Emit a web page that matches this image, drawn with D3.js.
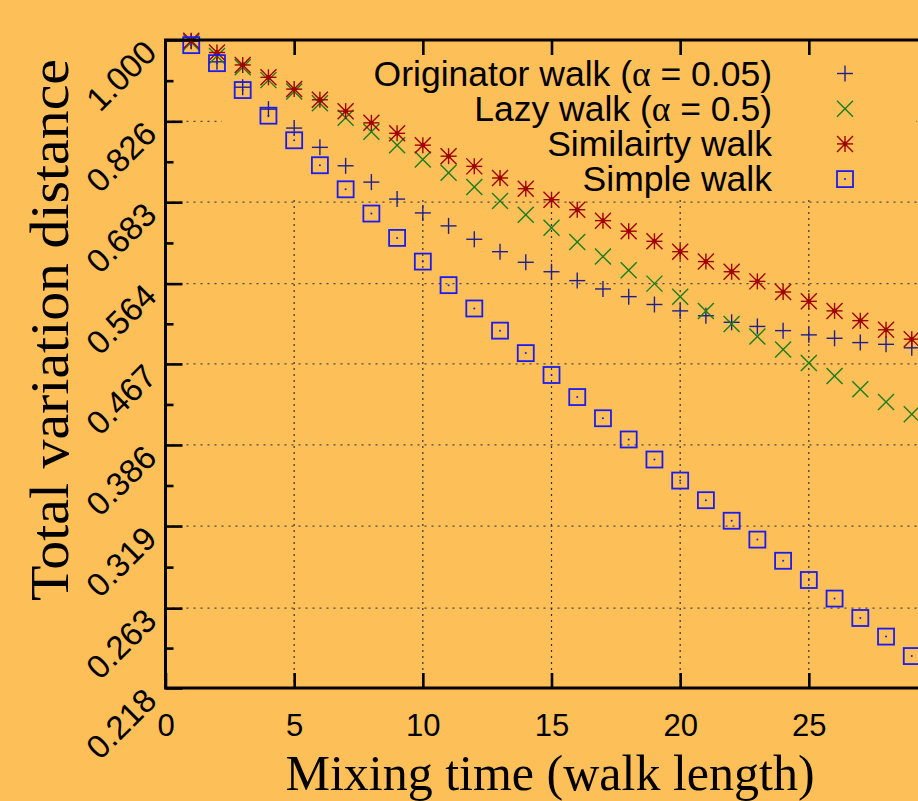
<!DOCTYPE html>
<html>
<head>
<meta charset="utf-8">
<script src="https://cdn.jsdelivr.net/npm/d3@7"></script>
<style>
  html, body { margin: 0; padding: 0; background: #fdbf58; }
  svg { display: block; }
</style>
</head>
<body>
<svg id="chart"></svg>
<script>
// walk length (x values)
var steps = d3.range(1, 30);

// total variation distance per series
var originator = [0.997, 0.950, 0.895, 0.850, 0.813, 0.777, 0.744, 0.716, 0.688, 0.666,
                  0.646, 0.626, 0.608, 0.593, 0.580, 0.568, 0.557, 0.547, 0.537, 0.529,
                  0.523, 0.515, 0.510, 0.505, 0.500, 0.496, 0.491, 0.489, 0.485];
var lazy = [0.995, 0.963, 0.938, 0.910, 0.886, 0.862, 0.833, 0.806, 0.781, 0.755,
            0.732, 0.708, 0.685, 0.663, 0.643, 0.622, 0.601, 0.582, 0.564, 0.547,
            0.529, 0.513, 0.498, 0.483, 0.468, 0.454, 0.440, 0.427, 0.415];
var similarity = [0.998, 0.971, 0.943, 0.916, 0.891, 0.869, 0.846, 0.823, 0.803, 0.781,
                  0.761, 0.743, 0.723, 0.705, 0.687, 0.671, 0.654, 0.638, 0.623, 0.608,
                  0.594, 0.580, 0.567, 0.553, 0.541, 0.529, 0.517, 0.506, 0.495];
var simple = [0.988, 0.947, 0.889, 0.837, 0.790, 0.745, 0.704, 0.665, 0.628, 0.594,
              0.562, 0.532, 0.505, 0.479, 0.455, 0.432, 0.411, 0.391, 0.373, 0.355,
              0.339, 0.323, 0.309, 0.294, 0.281, 0.269, 0.257, 0.246, 0.235];

// tick labels
var xTicks = [0, 5, 10, 15, 20, 25];
var yTicks = [1.000, 0.826, 0.683, 0.564, 0.467, 0.386, 0.319, 0.263, 0.218];

var series = [
  {name: "Originator walk", alpha: "0.05", values: originator, shape: "plus",   color: "#1f1f8f"},
  {name: "Lazy walk",       alpha: "0.5",  values: lazy,       shape: "cross",  color: "#1b7d1b"},
  {name: "Similairty walk", alpha: null,   values: similarity, shape: "star",   color: "#a00000"},
  {name: "Simple walk",     alpha: null,   values: simple,     shape: "square", color: "#1c1cf0"}
];

var W = 918, H = 801;
var bg = "#fdbf58";
var pLeft = 165.5, pRight = 937.5, pTop = 40, pBottom = 688;

var svg = d3.select("#chart").attr("width", W).attr("height", H);
svg.append("rect").attr("width", W).attr("height", H).attr("fill", bg);

var x = d3.scaleLinear().domain([0, 30]).range([pLeft, pRight]);
var y = d3.scaleLog().domain([0.218, 1]).range([pBottom, pTop]);

// minor y ticks halfway (in log space) between labelled ones
var yMinor = [];
for (var i = 0; i < yTicks.length - 1; i++) yMinor.push(Math.sqrt(yTicks[i] * yTicks[i + 1]));

//--------------- grid
var grid = svg.append("g").attr("class", "grid");
grid.selectAll("line.h")
  .data(yTicks.slice(1, -1))
  .enter().append("line")
  .attr("x1", pLeft).attr("x2", pRight)
  .attr("y1", function(d) { return y(d); }).attr("y2", function(d) { return y(d); })
  .attr("stroke", "#4a4a4a").attr("stroke-width", 1.3).attr("stroke-dasharray", "2,5");
grid.selectAll("line.v")
  .data([5, 10, 15, 20, 25])
  .enter().append("line")
  .attr("y1", pBottom).attr("y2", pTop)
  .attr("x1", function(d) { return x(d); }).attr("x2", function(d) { return x(d); })
  .attr("stroke", "#333").attr("stroke-width", 1.2).attr("stroke-dasharray", "2,4");

// key box hides the grid behind it
svg.append("rect")
  .attr("x", 222).attr("y", pTop).attr("width", 694).attr("height", 156)
  .attr("fill", bg);

//--------------- markers
function drawMarker(g, shape, color) {
  var r = 8;
  if (shape === "plus" || shape === "star") {
    g.append("line").attr("x1", -r).attr("x2", r).attr("y1", 0).attr("y2", 0);
    g.append("line").attr("x1", 0).attr("x2", 0).attr("y1", -r).attr("y2", r);
  }
  if (shape === "cross" || shape === "star") {
    g.append("line").attr("x1", -r).attr("x2", r).attr("y1", -r).attr("y2", r);
    g.append("line").attr("x1", -r).attr("x2", r).attr("y1", r).attr("y2", -r);
  }
  if (shape === "star") {
    g.append("circle").attr("r", 2.4).attr("fill", color).attr("stroke", "none");
  }
  if (shape === "square") {
    g.append("rect").attr("x", -8).attr("y", -8).attr("width", 16).attr("height", 16)
      .attr("fill", "none").attr("stroke-width", 1.8);
    g.append("circle").attr("r", 1).attr("fill", color).attr("stroke", "none");
  }
  g.attr("stroke", color).attr("stroke-width", 1.4).attr("fill", "none");
}

var plot = svg.append("g").attr("class", "points");
series.forEach(function(s) {
  plot.append("g").selectAll("g")
    .data(s.values)
    .enter().append("g")
    .attr("transform", function(d, i) { return "translate(" + x(steps[i]) + "," + y(d) + ")"; })
    .each(function() { drawMarker(d3.select(this), s.shape, s.color); });
});

//--------------- axes (ticks point inward)
var xAxis = svg.append("g")
  .attr("transform", "translate(0," + pBottom + ")")
  .call(d3.axisBottom(x).tickValues(xTicks).tickSize(-15).tickPadding(0).tickFormat(d3.format("d")));
xAxis.selectAll("text")
  .attr("y", 48).attr("dy", 0)
  .style("font-family", "'Liberation Sans', Arial, sans-serif").style("font-size", "31px")
  .attr("fill", "#000");

svg.append("g")
  .attr("transform", "translate(0," + pTop + ")")
  .call(d3.axisTop(x).tickValues([5, 10, 15, 20, 25]).tickSize(-15).tickFormat(""));

var yAxis = svg.append("g")
  .attr("transform", "translate(" + pLeft + ",0)")
  .call(d3.axisLeft(y).tickValues(yTicks).tickSize(-17).tickFormat(d3.format(".3f")));
yAxis.selectAll("text")
  .attr("x", 0).attr("dy", 0)
  .attr("transform", "translate(-7,14) rotate(-45)")
  .style("text-anchor", "end")
  .style("font-family", "'Liberation Sans', Arial, sans-serif").style("font-size", "33px")
  .attr("fill", "#000");

svg.append("g")
  .attr("transform", "translate(" + pLeft + ",0)")
  .call(d3.axisLeft(y).tickValues(yMinor).tickSize(-8).tickFormat(""));

svg.append("g")
  .attr("transform", "translate(" + pRight + ",0)")
  .call(d3.axisRight(y).tickValues(yTicks).tickSize(-17).tickFormat(""));

svg.selectAll(".domain").remove();
svg.selectAll(".tick line").attr("stroke", "#000").attr("stroke-width", 2.6);

// frame
svg.append("rect")
  .attr("x", pLeft).attr("y", pTop).attr("width", pRight - pLeft).attr("height", pBottom - pTop)
  .attr("fill", "none").attr("stroke", "#000").attr("stroke-width", 3);

//--------------- axis titles
svg.append("text")
  .attr("x", 550).attr("y", 790)
  .attr("text-anchor", "middle")
  .style("font-family", "'Liberation Serif', 'Times New Roman', serif").style("font-size", "50px")
  .text("Mixing time (walk length)");

svg.append("text")
  .attr("transform", "translate(68,330) rotate(-90)")
  .attr("text-anchor", "middle")
  .attr("textLength", 542).attr("lengthAdjust", "spacingAndGlyphs")
  .style("font-family", "'Liberation Serif', 'Times New Roman', serif").style("font-size", "55px")
  .text("Total variation distance");

//--------------- legend
var legend = svg.append("g").attr("class", "legend");
series.forEach(function(s, i) {
  var ry = 73.5 + i * 35.2;
  var t = legend.append("text")
    .attr("x", 772).attr("y", ry + 12)
    .attr("text-anchor", "end")
    .style("font-family", "'Liberation Sans', Arial, sans-serif").style("font-size", "35.5px")
    .attr("fill", "#000");
  if (s.alpha) {
    t.append("tspan").text(s.name + " (");
    t.append("tspan").style("font-family", "'Liberation Serif', serif").text("\u03b1");
    t.append("tspan").text(" = " + s.alpha + ")");
  } else {
    t.text(s.name);
  }
  var m = legend.append("g").attr("transform", "translate(845," + ry + ")");
  drawMarker(m, s.shape, s.color);
});
</script>
</body>
</html>
